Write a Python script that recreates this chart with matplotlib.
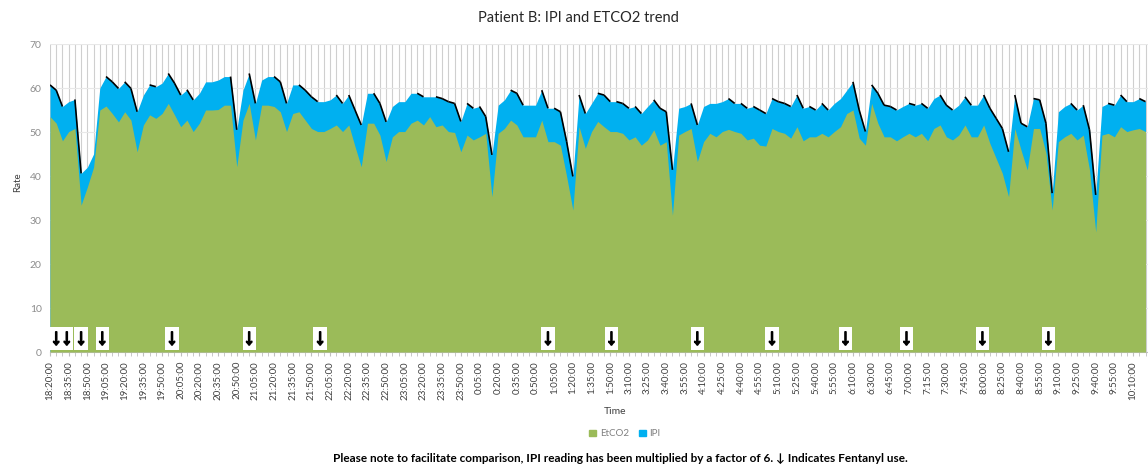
import matplotlib
matplotlib.use('Agg')
import matplotlib.pyplot as plt
import matplotlib.patheffects as pe
import numpy as np
from matplotlib.patches import Patch

# EtCO2 readings, one per 5-minute sample
etco2 = [53.5, 52.0, 48.0, 50.1, 50.8, 33.4, 37.5, 42.0, 55.0, 55.9,
         54.2, 52.3, 54.6, 52.7, 45.5, 51.6, 53.9, 53.1, 54.2, 56.5,
         53.9, 51.2, 52.7, 50.1, 52.0, 55.0, 55.0, 55.1, 56.1, 56.1,
         42.1, 52.7, 56.5, 48.2, 56.1, 56.1, 55.8, 54.6, 50.1, 54.2,
         54.6, 52.7, 50.8, 50.1, 50.1, 50.8, 51.6, 50.1, 51.6, 46.7,
         42.1, 52.0, 52.0, 49.3, 43.3, 48.9, 50.1, 50.1, 52.0, 52.7,
         51.6, 53.5, 51.2, 51.6, 50.1, 49.9, 45.5, 49.3, 48.2, 48.9,
         49.7, 35.3, 49.7, 50.8, 52.7, 51.6, 48.9, 48.9, 48.9, 52.7,
         47.8, 47.8, 47.0, 39.9, 32.3, 51.2, 46.3, 50.1, 52.4, 51.2,
         50.1, 50.1, 49.7, 48.2, 48.9, 47.0, 48.2, 50.5, 47.0, 47.8,
         31.1, 49.3, 50.1, 50.8, 43.3, 47.8, 49.7, 48.9, 50.1, 50.6,
         50.1, 49.7, 48.2, 48.6, 47.0, 46.8, 50.8, 50.1, 49.7,
         48.6, 51.2, 48.0, 48.9, 48.9, 49.7, 48.9, 50.1, 51.2, 54.2, 55.0,
         48.6, 47.0, 56.5, 52.0, 48.9, 48.9, 48.0, 48.9, 49.7, 48.9,
         49.7, 48.0, 50.8, 51.6, 48.9, 48.2, 49.3, 51.6, 48.9, 48.9,
         51.6, 47.4, 44.0, 40.6, 35.3, 50.8, 45.9, 41.4, 50.8, 50.8,
         45.2, 32.3, 47.8, 48.9, 49.7, 48.2, 49.3, 41.4, 27.3, 49.3,
         49.7, 48.9, 51.2, 50.1, 50.5, 50.8, 50.1]

# IPI readings multiplied by 6
ipi_x6 = [60.7, 59.5, 55.8, 56.9, 57.4, 40.6, 42.0, 45.0, 60.0, 62.6,
          61.4, 59.9, 61.4, 59.9, 54.6, 58.4, 60.7, 60.3, 61.1, 63.3,
          61.1, 58.4, 59.6, 57.3, 58.8, 61.4, 61.4, 61.8, 62.6, 62.6,
          50.5, 59.5, 63.3, 56.5, 61.8, 62.6, 62.6, 61.4, 56.5, 60.7,
          60.7, 59.5, 58.0, 56.9, 56.9, 57.3, 58.4, 56.5, 58.4, 55.0,
          51.6, 58.8, 58.8, 56.5, 52.3, 55.8, 56.9, 56.9, 58.8, 58.8,
          58.0, 58.0, 58.0, 57.6, 56.9, 56.5, 52.4, 56.5, 55.4, 55.8,
          53.5, 44.8, 56.1, 57.3, 59.5, 58.8, 56.1, 56.1, 56.1, 59.5,
          55.4, 55.4, 54.6, 47.8, 39.9, 58.4, 54.2, 56.5, 58.8, 58.4,
          56.9, 56.9, 56.5, 55.4, 55.8, 54.2, 55.8, 57.3, 55.4, 54.6,
          41.4, 55.4, 55.8, 56.5, 51.6, 55.8, 56.5, 56.5, 56.9, 57.6,
          56.5, 56.5, 55.4, 55.8, 55.0, 54.2, 57.6, 56.9, 56.5,
          55.8, 58.4, 55.4, 55.8, 55.0, 56.5, 55.0, 56.5, 57.6, 59.5, 61.4,
          55.0, 50.1, 60.7, 58.8, 56.1, 55.8, 55.0, 55.8, 56.5, 56.1,
          56.5, 55.4, 57.6, 58.4, 56.1, 55.0, 56.1, 58.0, 56.1, 56.1,
          58.4, 55.4, 53.1, 50.8, 45.5, 58.4, 52.0, 51.2, 57.6, 57.3,
          52.0, 36.1, 54.6, 55.8, 56.5, 55.0, 56.1, 50.5, 35.7, 55.8,
          56.5, 56.1, 58.4, 56.9, 56.9, 57.6, 56.9]

# labels shown on every third sample
time_labels = ['18:20:00', '18:35:00', '18:50:00', '19:05:00', '19:20:00', '19:35:00',
               '19:50:00', '20:05:00', '20:20:00', '20:35:00', '20:50:00', '21:05:00',
               '21:20:00', '21:35:00', '21:50:00', '22:05:00', '22:20:00', '22:35:00',
               '22:50:00', '23:05:00', '23:20:00', '23:35:00', '23:50:00', '0:05:00',
               '0:20:00', '0:35:00', '0:50:00', '1:05:00', '1:20:00', '1:35:00',
               '1:50:00', '3:10:00', '3:25:00', '3:40:00', '3:55:00', '4:10:00',
               '4:25:00', '4:40:00', '4:55:00', '5:10:00', '5:25:00', '5:40:00',
               '5:55:00', '6:10:00', '6:30:00', '6:45:00', '7:00:00', '7:15:00',
               '7:30:00', '7:45:00', '8:00:00', '8:25:00', '8:40:00', '8:55:00',
               '9:10:00', '9:25:00', '9:40:00', '9:55:00', '10:10:00']

# samples where Fentanyl was given
fentanyl_idx = [1, 2.7, 5, 8.4, 19.6, 32, 43.4, 80, 90.2, 104, 116, 127.8, 137.6, 149.8, 160.4]

plt.rcParams['font.family'] = ['Lato', 'DejaVu Sans']

fig = plt.figure(figsize=(11.48, 4.66), dpi=100)
ax = fig.add_axes([50/1148, 114/466, 1 - 50/1148, 308/466])

x = np.arange(len(etco2))
ipi = np.array(ipi_x6)
ax.fill_between(x, ipi, color='#00B0F0', lw=0, zorder=2)
ax.fill_between(x, etco2, color='#9BBB59', lw=0, zorder=3)

# dark edge on the falling parts of the IPI area
for i in range(len(ipi) - 1):
    if ipi[i + 1] < ipi[i]:
        ax.plot([i, i + 1], [ipi[i], ipi[i + 1]], color='black', lw=1.2,
                zorder=4, solid_capstyle='butt')

for idx in fentanyl_idx:
    ax.text(idx, 0.6, '\u2193', ha='center', va='bottom', fontsize=16,
            fontweight='bold', family='Liberation Sans', zorder=6,
            path_effects=[pe.withStroke(linewidth=1.2, foreground='black')],
            bbox=dict(boxstyle='square,pad=0.05', fc='white', ec='none'))

ax.set_xlim(0, 176.4)
ax.set_ylim(0, 70)
ax.set_xticks(x[::3][:len(time_labels)])
ax.set_xticklabels(time_labels, rotation=90, fontsize=7, color='#404040')
ax.set_xticks(x, minor=True)
ax.set_yticks(range(0, 71, 10))
ax.tick_params(axis='y', length=0, labelsize=7.5, labelcolor='#8c8c8c', pad=6)
ax.tick_params(axis='x', which='both', length=3, color='#bfbfbf', direction='out')
ax.set_axisbelow(True)
ax.grid(which='minor', axis='x', color='#cfcfcf', lw=0.8)
ax.grid(which='major', axis='x', color='#cfcfcf', lw=0.8)
ax.grid(which='major', axis='y', color='#e8e8e8', lw=0.8)
for s in ['top', 'right', 'left']:
    ax.spines[s].set_visible(False)
ax.spines['bottom'].set_color('#bfbfbf')

fig.text(578/1148, 1 - 18/466, 'Patient B: IPI and ETCO2 trend', ha='center',
         va='center', fontsize=10.5, color='#262626')
fig.text(18/1148, 1 - 182/466, 'Rate', rotation=90, ha='center', va='center',
         fontsize=7, color='#404040')
fig.text(615/1148, 1 - 411/466, 'Time', ha='center', va='center', fontsize=7.5,
         color='#404040')
handles = [Patch(color='#9BBB59', label='EtCO2'), Patch(color='#00B0F0', label='IPI')]
fig.legend(handles=handles, loc='center', bbox_to_anchor=(625/1148, 1 - 434/466),
           ncol=2, frameon=False, fontsize=7, handlelength=0.7, handleheight=0.7,
           labelcolor='#7f7f7f', columnspacing=1.0, handletextpad=0.4)
fig.text(620/1148, 1 - 458/466,
         'Please note to facilitate comparison, IPI reading has been multiplied by a factor of 6. '
         '\u2193 Indicates Fentanyl use.',
         ha='center', va='center', fontsize=8.5, fontweight='bold', color='black')

fig.savefig('out.png', dpi=100)
